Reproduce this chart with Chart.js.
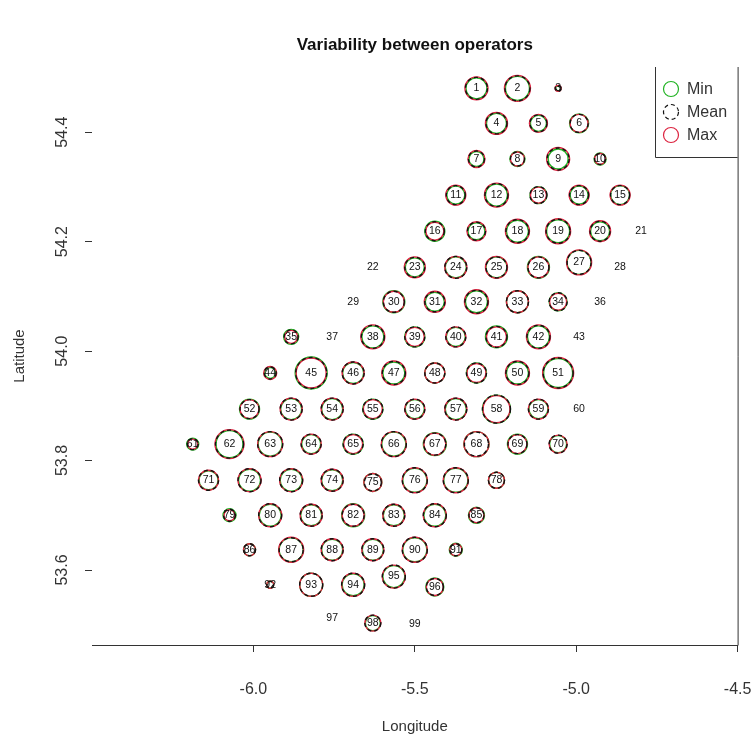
<!DOCTYPE html>
<html>
<head>
<meta charset="utf-8">
<title>Variability between operators</title>
<script src="https://cdn.jsdelivr.net/npm/chart.js@4.4.1/dist/chart.umd.min.js"></script>
<style>
  body { margin: 0; background: #fff; }
  #wrap { width: 755px; height: 740px; }
</style>
</head>
<body>
<div id="wrap"><canvas id="chart" width="755" height="740"></canvas></div>
<script>
// station numbers and positions (lon / lat)
const stations = [
  '1','2','3','4','5','6','7','8','9','10',
  '11','12','13','14','15','16','17','18','19','20',
  '21','22','23','24','25','26','27','28','29','30',
  '31','32','33','34','35','36','37','38','39','40',
  '41','42','43','44','45','46','47','48','49','50',
  '51','52','53','54','55','56','57','58','59','60',
  '61','62','63','64','65','66','67','68','69','70',
  '71','72','73','74','75','76','77','78','79','80',
  '81','82','83','84','85','86','87','88','89','90',
  '91','92','93','94','95','96','97','98','99'
];
const lon = [
  -5.309,-5.182,-5.056,-5.247,-5.117,-4.991,-5.309,-5.182,-5.056,-4.926,
  -5.373,-5.247,-5.117,-4.991,-4.864,-5.438,-5.309,-5.182,-5.056,-4.926,
  -4.799,-5.630,-5.500,-5.373,-5.247,-5.117,-4.991,-4.864,-5.691,-5.565,
  -5.438,-5.309,-5.182,-5.056,-5.883,-4.926,-5.756,-5.630,-5.500,-5.373,
  -5.247,-5.117,-4.991,-5.948,-5.821,-5.691,-5.565,-5.438,-5.309,-5.182,
  -5.056,-6.012,-5.883,-5.756,-5.630,-5.500,-5.373,-5.247,-5.117,-4.991,
  -6.188,-6.074,-5.948,-5.821,-5.691,-5.565,-5.438,-5.309,-5.182,-5.056,
  -6.139,-6.012,-5.883,-5.756,-5.630,-5.500,-5.373,-5.247,-6.074,-5.948,
  -5.821,-5.691,-5.565,-5.438,-5.309,-6.012,-5.883,-5.756,-5.630,-5.500,
  -5.373,-5.948,-5.821,-5.691,-5.565,-5.438,-5.756,-5.630,-5.500
];
const lat = [
  54.480,54.480,54.480,54.416,54.416,54.416,54.351,54.351,54.351,54.351,
  54.285,54.285,54.285,54.285,54.285,54.219,54.219,54.219,54.219,54.219,
  54.219,54.153,54.153,54.153,54.153,54.153,54.162,54.153,54.090,54.090,
  54.090,54.090,54.090,54.090,54.026,54.090,54.026,54.026,54.026,54.026,
  54.026,54.026,54.026,53.960,53.960,53.960,53.960,53.960,53.960,53.960,
  53.960,53.894,53.894,53.894,53.894,53.894,53.894,53.894,53.894,53.894,
  53.830,53.830,53.830,53.830,53.830,53.830,53.830,53.830,53.830,53.830,
  53.764,53.764,53.764,53.764,53.760,53.764,53.764,53.764,53.700,53.700,
  53.700,53.700,53.700,53.700,53.700,53.637,53.637,53.637,53.637,53.637,
  53.637,53.573,53.573,53.573,53.588,53.569,53.512,53.503,53.502
];

// circle radii (px) for the minimum, mean and maximum between operators
const rMin = [
  10.5,12,2.5,10,8,9.5,7.5,7.5,10,6,
  9,11,8.5,9,9.5,10,8.5,11,11.5,9.5,
  0,0,9.5,10.5,10.5,11,12,0,0,11,
  9.5,11,11,9,7.5,0,0,11,10,9.5,
  11,11,0,5.5,16,10.5,11,10,10,11,
  14.5,10,10.5,10.5,10,9.5,10.5,14,9.5,0,
  6,13.5,12,9.5,10,12,11.5,12.5,10,8.5,
  9.5,11,11,10.5,9,12,12,8,6.5,11,
  10.5,11.5,10.5,11,8,6,12,10.5,10.5,12,
  6.5,3.5,11.5,11,11,9,0,7.5,0
];
const rMean = [
  11,12.5,3,10.5,8.5,9,8,7,11,5.5,
  9.5,11.5,8.5,9.5,9.5,9.5,9,11.5,12,10,
  0,0,10,11,10.5,10.5,12,0,0,10.5,
  10,11.5,11,9,7,0,0,11.5,10,10,
  10.5,11.5,0,6,15.5,11,11.5,10,10,11.5,
  15,9.5,11,11,10,10,11,14,10,0,
  5.5,14,12.5,10,10,12.5,11,12,9.5,9,
  10,11.5,11.5,11,8.5,12.5,12.5,8,6,11.5,
  11,11,11,11.5,7.5,6,12,11,11,12.5,
  6,3.5,11.5,11.5,11.5,8.5,0,8,0
];
const rMax = [
  11.5,13,3,11,9,9,8.5,7,11.5,5.5,
  10,12,8,10,10,9,9.5,12,12.5,10.5,
  0,0,10.5,11,11,10.5,12.5,0,0,10.5,
  10.5,12,11,8.5,6.5,0,0,12,9.5,10,
  10,12,0,6.5,15,11,12,10,9.5,12,
  15.5,9.5,11,11,9.5,10,11,13.5,10,0,
  5,14.5,12.5,10,9.5,12.5,11,12.5,9.5,9,
  10,11.5,11.5,11,9,12.5,12.5,8,5.5,11.5,
  11,11,11,11.5,7.5,6,12.5,11,11,12.5,
  6,3.5,11.5,11.5,11.5,8.5,0,8,0
];

const xTicks = [-6.0, -5.5, -5.0, -4.5];
const yTicks = [53.6, 53.8, 54.0, 54.2, 54.4];
const seriesNames = ['Min', 'Mean', 'Max'];
const seriesColors = ['#22b324', '#111111', '#dc2440'];

const FONT = '"Liberation Sans", Arial, sans-serif';
const TEXT = '#333';
const MEAN_DASH = [4, 3];

function bubbles(radii) {
  return lon.map((x, i) => ({ x, y: lat[i], r: radii[i] }));
}

// axis text, frame pieces, legend and the station numbers
const decor = {
  id: 'decor',
  beforeDatasetDraw(chart, args) {
    if (args.index === 1) chart.ctx.setLineDash(MEAN_DASH);
  },
  afterDatasetDraw(chart) {
    chart.ctx.setLineDash([]);
  },
  afterDraw(chart) {
    const { ctx, chartArea: a, scales: { x, y } } = chart;
    ctx.save();

    // title
    ctx.fillStyle = '#111';
    ctx.font = 'bold 17px ' + FONT;
    ctx.textAlign = 'center';
    ctx.textBaseline = 'middle';
    ctx.fillText('Variability between operators', (a.left + a.right) / 2, 45);

    // right edge of the frame
    ctx.strokeStyle = TEXT;
    ctx.lineWidth = 1;
    ctx.beginPath();
    ctx.moveTo(a.right + 0.5, a.top);
    ctx.lineTo(a.right + 0.5, a.bottom + 0.5);
    ctx.stroke();

    // y tick labels, written along the axis
    ctx.fillStyle = TEXT;
    ctx.font = '16px ' + FONT;
    yTicks.forEach(v => {
      ctx.save();
      ctx.translate(63, y.getPixelForValue(v));
      ctx.rotate(-Math.PI / 2);
      ctx.fillText(v.toFixed(1), 0, 0);
      ctx.restore();
    });
    ctx.save();
    ctx.font = '15px ' + FONT;
    ctx.translate(20, (a.top + a.bottom) / 2);
    ctx.rotate(-Math.PI / 2);
    ctx.fillText('Latitude', 0, 0);
    ctx.restore();

    // legend box, open at the top and right
    const lx = 655, ly = a.top, lb = 157;
    ctx.strokeStyle = TEXT;
    ctx.beginPath();
    ctx.moveTo(lx + 0.5, ly);
    ctx.lineTo(lx + 0.5, lb + 0.5);
    ctx.lineTo(a.right, lb + 0.5);
    ctx.stroke();
    ctx.font = '16px ' + FONT;
    ctx.textAlign = 'left';
    seriesNames.forEach((name, i) => {
      const cy = 89 + i * 23;
      ctx.strokeStyle = seriesColors[i];
      ctx.lineWidth = 1.2;
      ctx.setLineDash(i === 1 ? MEAN_DASH : []);
      ctx.beginPath();
      ctx.arc(671, cy, 7.5, 0, Math.PI * 2);
      ctx.stroke();
      ctx.setLineDash([]);
      ctx.fillStyle = TEXT;
      ctx.fillText(name, 687, cy + 1);
    });

    // station numbers at the circle centres
    ctx.fillStyle = '#111';
    ctx.font = '10.5px ' + FONT;
    ctx.textAlign = 'center';
    stations.forEach((s, i) => {
      ctx.fillText(s, x.getPixelForValue(lon[i]), y.getPixelForValue(lat[i]));
    });
    ctx.restore();
  }
};

new Chart(document.getElementById('chart'), {
  type: 'bubble',
  data: {
    datasets: seriesNames.map((name, i) => ({
      label: name,
      data: bubbles([rMin, rMean, rMax][i]),
      backgroundColor: 'rgba(0,0,0,0)',
      borderColor: seriesColors[i],
      borderWidth: 1.4,
      order: [2, 0, 1][i]
    }))
  },
  options: {
    responsive: false,
    animation: false,
    events: [],
    layout: { padding: { top: 67, right: 14, left: 0, bottom: 0 } },
    plugins: { legend: { display: false }, tooltip: { enabled: false } },
    scales: {
      x: {
        type: 'linear',
        min: -6.5,
        max: -4.5,
        afterBuildTicks: s => { s.ticks = xTicks.map(v => ({ value: v })); },
        afterFit: s => { s.height = 95; s.paddingLeft = 0; s.paddingRight = 0; },
        ticks: {
          color: TEXT,
          font: { family: FONT, size: 16 },
          padding: 28,
          maxRotation: 0,
          callback: v => v.toFixed(1)
        },
        grid: { drawOnChartArea: false, tickLength: 7, color: TEXT },
        border: { display: true, color: TEXT },
        title: {
          display: true,
          text: 'Longitude',
          color: TEXT,
          font: { family: FONT, size: 15 },
          padding: { top: 0, bottom: 4 }
        }
      },
      y: {
        type: 'linear',
        min: 53.463,
        max: 54.519,
        afterBuildTicks: s => { s.ticks = yTicks.map(v => ({ value: v })); },
        afterFit: s => { s.width = 92; s.paddingTop = 0; s.paddingBottom = 0; },
        ticks: { display: false },
        grid: { drawOnChartArea: false, tickLength: 7, color: TEXT },
        border: { display: false }
      }
    }
  },
  plugins: [decor]
});
</script>
</body>
</html>
